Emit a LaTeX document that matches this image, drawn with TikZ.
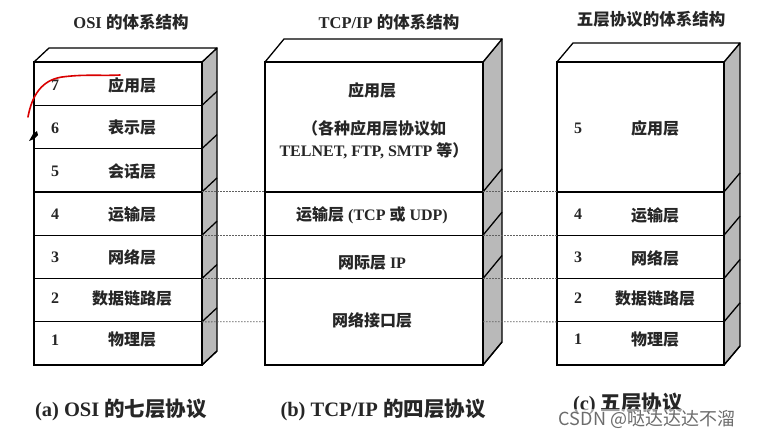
\documentclass[tikz,border=0pt]{standalone}
\usepackage{fontspec}
\setmainfont{Liberation Serif}
\newfontfamily\cjk{Noto Sans CJK SC}
\usetikzlibrary{calc}
\begin{document}
\begin{tikzpicture}[x=1pt,y=-1pt,
  layerbox/.style={draw, line width=1.3pt, fill=white, anchor=north west, inner sep=0pt, outer sep=0pt},
  sideface/.style={draw, line width=1.3pt, fill=gray!55, line join=round},
  topface/.style={draw, line width=1.3pt, fill=white, line join=round},
  edgeline/.style={line width=1.3pt},
  dotline/.style={line width=0.9pt, gray!75!black, dash pattern=on 1.5pt off 1.5pt},
  lbl/.style={font=\bfseries\fontsize{16}{18}\selectfont, text=black!85, inner sep=1pt},
  num/.style={font=\bfseries\fontsize{16}{18}\selectfont, text=black!85, inner sep=1pt},
  ttl/.style={font=\bfseries\fontsize{16.5}{18}\selectfont, text=black!85, inner sep=1pt},
  captxt/.style={font=\bfseries\fontsize{20.5}{22}\selectfont, text=black!85, inner sep=1pt}
]
\useasboundingbox[fill=white] (0,0) rectangle (757,437);

% ---------- OSI ----------
\draw[sideface] (202,62) -- ++(15,-14) -- ++(0,303) -- (202,365) -- cycle;
\draw[topface] (34,62) -- ++(15,-14) -- ++(168,0) -- (202,62) -- cycle;
\node[layerbox, minimum width=168, minimum height=43.3] (osi7) at (34,62) {};
\node[layerbox, minimum width=168, minimum height=43.3] (osi6) at (34,105.3) {};
\node[layerbox, minimum width=168, minimum height=43.3] (osi5) at (34,148.6) {};
\node[layerbox, minimum width=168, minimum height=43.3] (osi4) at (34,191.9) {};
\node[layerbox, minimum width=168, minimum height=43.3] (osi3) at (34,235.2) {};
\node[layerbox, minimum width=168, minimum height=43.3] (osi2) at (34,278.5) {};
\node[layerbox, minimum width=168, minimum height=43.2] (osi1) at (34,321.8) {};
\foreach \n in {osi6,osi5,osi4,osi3,osi2,osi1}{\draw[edgeline] (\n.north east) -- ++(15,-14);}
\draw[edgeline] (osi1.south east) -- ++(15,-14);

\node[num] (osi7num) at (55,85) {7};
\node[lbl] (osi7lbl) at (132,85) {\cjk 应用层};
\node[num] (osi6num) at (55,128) {6};
\node[lbl] (osi6lbl) at (132,128) {\cjk 表示层};
\node[num] (osi5num) at (55,171) {5};
\node[lbl] (osi5lbl) at (132,171) {\cjk 会话层};
\node[num] (osi4num) at (55,214) {4};
\node[lbl] (osi4lbl) at (132,214) {\cjk 运输层};
\node[num] (osi3num) at (55,257) {3};
\node[lbl] (osi3lbl) at (132,257) {\cjk 网络层};
\node[num] (osi2num) at (55,298) {2};
\node[lbl] (osi2lbl) at (132,298) {\cjk 数据链路层};
\node[num] (osi1num) at (55,340) {1};
\node[lbl] (osi1lbl) at (132,340) {\cjk 物理层};

% ---------- TCP/IP ----------
\draw[sideface] (483,62) -- ++(19,-23) -- ++(0,303) -- (483,365) -- cycle;
\draw[topface] (265,62) -- ++(19,-23) -- ++(218,0) -- (483,62) -- cycle;
\node[layerbox, minimum width=218, minimum height=129.9] (tcp1) at (265,62) {};
\node[layerbox, minimum width=218, minimum height=43.3] (tcp2) at (265,191.9) {};
\node[layerbox, minimum width=218, minimum height=43.3] (tcp3) at (265,235.2) {};
\node[layerbox, minimum width=218, minimum height=86.5] (tcp4) at (265,278.5) {};
\foreach \n in {tcp2,tcp3,tcp4}{\draw[edgeline] (\n.north east) -- ++(19,-23);}
\draw[edgeline] (tcp4.south east) -- ++(19,-23);

\node[lbl] (tcp1lbl) at (372,90) {\cjk 应用层};
\node[lbl] (tcp1lblb) at (374,128) {\cjk （各种应用层协议如};
\node[lbl] (tcp1lblc) at (374,151) {TELNET, FTP, SMTP {\cjk 等）}};
\node[lbl] (tcp2lbl) at (372,215) {{\cjk 运输层} (TCP {\cjk 或} UDP)};
\node[lbl] (tcp3lbl) at (372,263) {{\cjk 网际层} IP};
\node[lbl] (tcp4lbl) at (372,320) {\cjk 网络接口层};

% ---------- Five layers ----------
\draw[sideface] (724,62) -- ++(16,-19) -- ++(0,303) -- (724,365) -- cycle;
\draw[topface] (557,62) -- ++(16,-19) -- ++(167,0) -- (724,62) -- cycle;
\node[layerbox, minimum width=167, minimum height=129.9] (five5) at (557,62) {};
\node[layerbox, minimum width=167, minimum height=43.3] (five4) at (557,191.9) {};
\node[layerbox, minimum width=167, minimum height=43.3] (five3) at (557,235.2) {};
\node[layerbox, minimum width=167, minimum height=43.3] (five2) at (557,278.5) {};
\node[layerbox, minimum width=167, minimum height=43.2] (five1) at (557,321.8) {};
\foreach \n in {five4,five3,five2,five1}{\draw[edgeline] (\n.north east) -- ++(16,-19);}
\draw[edgeline] (five1.south east) -- ++(16,-19);

\node[num] (five5num) at (578,128) {5};
\node[lbl] (five5lbl) at (655,128) {\cjk 应用层};
\node[num] (five4num) at (578,214) {4};
\node[lbl] (five4lbl) at (655,215) {\cjk 运输层};
\node[num] (five3num) at (578,257) {3};
\node[lbl] (five3lbl) at (655,258) {\cjk 网络层};
\node[num] (five2num) at (578,298) {2};
\node[lbl] (five2lbl) at (655,298) {\cjk 数据链路层};
\node[num] (five1num) at (578,339) {1};
\node[lbl] (five1lbl) at (655,340) {\cjk 物理层};

% ---------- dotted correspondences ----------
\draw[dotline] (osi4.north east) -- (tcp2.north west);
\draw[dotline] (osi3.north east) -- (tcp3.north west);
\draw[dotline] (osi2.north east) -- (tcp4.north west);
\draw[dotline] (osi1.north east) -- (tcp4.west);
\draw[dotline] (tcp2.north east) -- (five4.north west);
\draw[dotline] (tcp3.north east) -- (five3.north west);
\draw[dotline] (tcp4.north east) -- (five2.north west);
\draw[dotline] (tcp4.east) -- (five1.north west);

% ---------- titles ----------
\node[ttl] (t1) at (131,22) {OSI {\cjk 的体系结构}};
\node[ttl] (t2) at (389,22) {TCP/IP {\cjk 的体系结构}};
\node[ttl] (t3) at (651,19) {\cjk 五层协议的体系结构};

% ---------- captions ----------
\node[captxt] (c1) at (121,410) {(a) OSI {\cjk 的七层协议}};
\node[captxt] (c2) at (383,410) {(b) TCP/IP {\cjk 的四层协议}};
\node[captxt] (c3) at (628,404) {(c) {\cjk 五层协议}};
\node[font=\cjk\fontsize{18}{20}\selectfont, text=gray!85!black, fill=white, fill opacity=0.55, text opacity=1, inner sep=1pt] (wm) at (647,419) {CSDN @哒达达达不溜};

% ---------- hand annotation ----------
\draw[red!85!black, line width=1.6pt, line cap=round] (28,117) .. controls (32,95) and (42,80) .. (62,77) .. controls (85,74) and (100,76) .. (120,75);
\fill[black] (29,141) -- (33,134) -- (37,131) -- (38,135) -- (34,139) -- cycle;
\end{tikzpicture}
\end{document}
